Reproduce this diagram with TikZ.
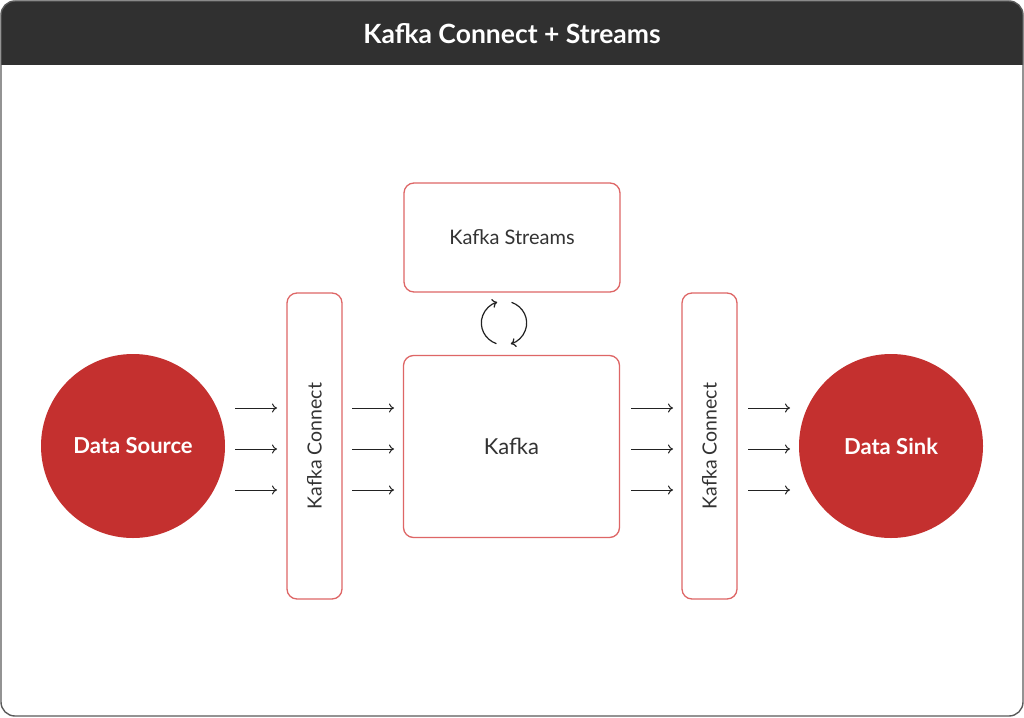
\documentclass[tikz,border=0pt]{standalone}
\usepackage{fontspec}
\setmainfont{Lato}
\usetikzlibrary{arrows.meta,calc}
\definecolor{hdr}{HTML}{303030}
\definecolor{frame}{HTML}{5A5A5A}
\definecolor{kred}{HTML}{C4302F}
\definecolor{kline}{HTML}{DE6666}
\definecolor{ktext}{HTML}{333333}
\definecolor{karrow}{HTML}{222222}
\tikzset{
  box/.style={draw=kline, line width=1.3pt, rounded corners=10pt, fill=white, text=ktext},
  blob/.style={circle, fill=kred, text=white, inner sep=0pt, minimum size=184pt, font=\bfseries\fontsize{22}{26}\selectfont},
  flow/.style={draw=karrow, line width=1pt, -{To[length=5pt,width=9pt]}},
  cyc/.style={draw=karrow, line width=1.2pt, -{To[length=5pt,width=9pt]}},
}
\begin{document}
\begin{tikzpicture}[x=1pt,y=-1pt]
\useasboundingbox (0,0) rectangle (1024,717);
\fill[white] (0,0) rectangle (1024,717);
\begin{scope}
  \clip[rounded corners=14pt] (1,1) rectangle (1023,716);
  \fill[hdr] (0,0) rectangle (1024,65);
\end{scope}
\draw[frame, line width=1.4pt, rounded corners=14pt] (1,1) rectangle (1023,716);
\node[text=white, font=\bfseries\fontsize{26.5}{30}\selectfont] (title) at (512,34) {Kafka Connect + Streams};

% boxes
\node[box, minimum width=216pt, minimum height=109pt, font=\fontsize{20}{24}\selectfont] (streams) at (512,237.5) {Kafka Streams};
\node[box, minimum width=216pt, minimum height=182pt, font=\fontsize{22}{26}\selectfont] (kafka) at (511.5,446.5) {Kafka};
\node[box, minimum width=55pt, minimum height=306pt] (kc1) at (314.5,446) {};
\node[font=\fontsize{19.5}{23}\selectfont, text=ktext, rotate=90] (kc1t) at (kc1.center) {Kafka Connect};
\node[box, minimum width=55pt, minimum height=306pt] (kc2) at (709.5,446) {};
\node[font=\fontsize{19.5}{23}\selectfont, text=ktext, rotate=90] (kc2t) at (kc2.center) {Kafka Connect};

% circles
\node[blob] (src) at (133,446) {Data Source};
\node[blob] (sink) at (891,446) {Data Sink};

% flow arrows
\foreach \y [count=\i] in {408,449,490}{
  \coordinate (a\i s) at (235,\y); \coordinate (a\i e) at (277,\y);
  \coordinate (b\i s) at (352,\y); \coordinate (b\i e) at (394,\y);
  \coordinate (c\i s) at (631,\y); \coordinate (c\i e) at (673,\y);
  \coordinate (d\i s) at (748,\y); \coordinate (d\i e) at (790,\y);
  \draw[flow] (a\i s) -- (a\i e);
  \draw[flow] (b\i s) -- (b\i e);
  \draw[flow] (c\i s) -- (c\i e);
  \draw[flow] (d\i s) -- (d\i e);
}

% cycle arrows
\coordinate (cyc) at (504,323);
\draw[cyc] ($(cyc)+(110:22)$) arc[start angle=110, end angle=252, x radius=23, y radius=22];
\draw[cyc] ($(cyc)+(290:22)$) arc[start angle=290, end angle=432, x radius=23, y radius=22];
\end{tikzpicture}
\end{document}
